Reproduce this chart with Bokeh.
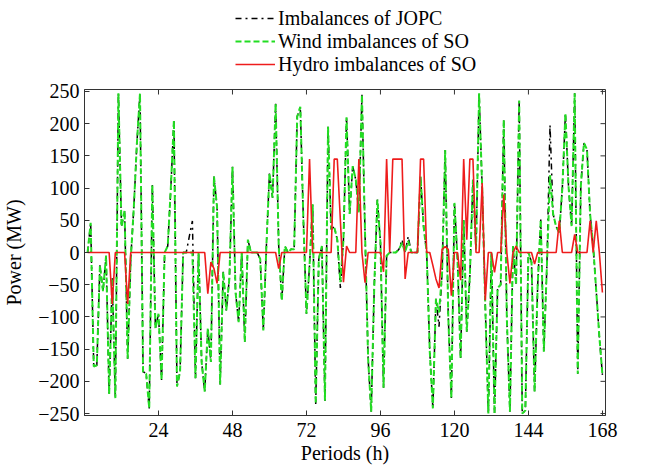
import math
from bokeh.plotting import figure
from bokeh.layouts import column
from bokeh.models import Legend, LegendItem, FixedTicker, Range1d
from bokeh.embed import file_html
from bokeh.resources import INLINE

periods = list(range(1, 169))

x_ticks = [24, 48, 72, 96, 120, 144, 168]
y_ticks = [-250, -200, -150, -100, -50, 0, 50, 100, 150, 200, 250]

wind_so = [
    0, 46, -177, -175, -20, -60, -5, -220, -40, -226, 247, 40, 65, -165, -10, 70, 170, 247, -185, -188, -242, 105, -118, -95,
    -198, 0, 10, 100, 205, -208, -185, 0, 0, 0, 0, -195, 0, -170, -216, -118, -170, 118, 70, -205, -30, -90, -40, 133,
    -62, -108, 0, -139, 20, 0, 0, 0, -10, -121, 10, 123, 85, 231, 10, -75, 10, 0, 5, 5, 211, 226, 51, -95,
    -20, 75, -235, -10, 10, -230, 195, 36, 40, 20, -46, 20, 210, 60, 134, 113, 62, 245, 30, -165, -247, -51, 82, 15,
    -210, -5, 0, 0, 0, 5, 15, 0, 18, 0, 0, 0, 118, 40, 0, -154, -242, -72, -93, -31, 159, -100, -226, 77,
    -10, -165, 50, -123, -36, 113, 5, 247, 100, -82, -250, 0, -250, -55, -50, 206, -103, -247, 10, -50, 236, -250, -245, 0,
    -15, -216, -51, 51, -154, -20, 120, 60, 40, 31, 100, 216, 103, 41, 247, -188, 103, 170, 160, 60, 10, -60, -130, -190,
]

jopc = [
    0, 46, -177, -175, -20, -60, -5, -220, -40, -226, 247, 40, 65, -165, -10, 70, 170, 247, -185, -188, -242, 105, -118, -95,
    -198, 0, 10, 100, 205, -208, -185, 0, 0, 25, 49, -195, 0, -170, -216, -118, -170, 118, 70, -205, -30, -90, -40, 133,
    -62, -108, 0, -139, 20, 0, 0, 0, -10, -121, 10, 123, 85, 231, 10, -75, 10, 0, 5, 5, 211, 226, 51, -95,
    -20, 75, -235, -10, 10, -230, 195, 36, 40, 20, -55, 20, 210, 60, 134, 113, 62, 245, 30, -165, -247, -51, 82, 15,
    -210, -5, 0, 0, 0, 5, 20, 0, 25, 0, 0, 0, 118, 40, 0, -154, -242, -72, -115, -31, 159, -100, -226, 77,
    -10, -165, 50, -123, -36, 113, 5, 247, 100, -82, -250, 0, -250, -55, -50, 206, -103, -247, 10, -50, 236, -250, -245, 0,
    -15, -216, -51, 51, -154, -20, 198, 60, 40, 31, 100, 216, 103, 41, 247, -188, 103, 170, 160, 60, 10, -60, -130, -190,
]

hydro_so = [
    0, 0, 0, 0, 0, 0, 0, 0, -80, 0, 0, 0, 0, -80, 0, 0, 0, 0, 0, 0, 0, 0, 0, 0,
    0, 0, 0, 0, 0, 0, 0, 0, 0, 0, 0, 0, 0, 0, 0, -64, -15, -25, -48, 0, 0, 0, 0, 0,
    0, 0, 0, 0, 0, 0, 0, 0, 0, 0, 0, 0, 0, 0, -25, 0, 0, 0, 0, 0, 0, 0, 0, 0,
    145, 0, 0, 0, 0, 0, 0, 0, 145, 145, 50, -46, 10, 0, 0, 0, 145, 0, -47, 0, 0, 0, 0, 0,
    -30, 145, 0, 145, 145, 145, 145, -41, 0, 0, 0, 0, 145, 145, 0, 0, -20, -41, -55, 5, 9, 5, -67, 0,
    0, -43, 145, 20, 145, 145, 0, 0, 108, -74, 0, 0, -31, 0, 0, 90, 0, -48, 0, 10, 0, 0, 0, 0,
    0, -18, 0, 0, 0, 0, 0, 0, 0, 49, 0, 0, 0, 0, 28, 0, 0, 0, 0, 49, 0, 49, 0, -62,
]

labels = ["Imbalances of JOPC", "Wind imbalances of SO", "Hydro imbalances of SO"]
colors = ["black", "#22dd22", "#ee1c1c"]
dashes = ["dashdot", "6 3", "solid"]
widths = [1.5, 2, 1.6]
series_list = [jopc, wind_so, hydro_so]

FONT = "Liberation Serif"
AX = "#333333"
X_LO, X_HI = 0, 169
Y_LO, Y_HI = -253, 253

# ---- legend strip above the chart (its series lie outside its own range, so only the key shows) ----
leg = figure(width=633, height=77, x_range=Range1d(-10, -9), y_range=Range1d(-10, -9),
             output_backend="svg", toolbar_location=None,
             x_axis_type=None, y_axis_type=None,
             min_border_left=0, min_border_right=0, min_border_top=0, min_border_bottom=0)
leg.outline_line_color = None
leg.xgrid.visible = False
leg.ygrid.visible = False
leg_items = []
for lab, ser, col, dsh, w in zip(labels, series_list, colors, dashes, widths):
    rr = leg.line(periods, ser, line_color=col, line_dash=dsh, line_width=w)
    leg_items.append(LegendItem(label=lab, renderers=[rr]))
legend = Legend(items=leg_items, location=(151, 1.5), orientation="vertical",
                glyph_width=40, glyph_height=20, label_height=20, label_standoff=3,
                spacing=0, padding=0, margin=0,
                label_text_font=FONT, label_text_font_size="20px", label_text_color="black",
                border_line_alpha=0, background_fill_alpha=0)
leg.add_layout(legend)

# ---- main chart ----
p = figure(width=633, height=389, x_range=Range1d(X_LO, X_HI), y_range=Range1d(Y_LO, Y_HI),
           output_backend="svg", toolbar_location=None,
           min_border_left=75, min_border_right=28, min_border_top=12, min_border_bottom=49)
p.xgrid.visible = False
p.ygrid.visible = False
p.outline_line_color = AX

for ax, ticks in ((p.xaxis, x_ticks), (p.yaxis, y_ticks)):
    ax.ticker = FixedTicker(ticks=ticks)
    ax.major_tick_in = 5
    ax.major_tick_out = 0
    ax.minor_tick_line_color = None
    ax.axis_line_color = AX
    ax.major_tick_line_color = AX
    ax.major_label_text_font = FONT
    ax.major_label_text_font_size = "20px"
    ax.major_label_text_color = "black"
    ax.axis_label_text_font = FONT
    ax.axis_label_text_font_size = "20px"
    ax.axis_label_text_font_style = "normal"
    ax.axis_label_text_color = "black"

p.xaxis.axis_label = "Periods (h)"
p.yaxis.axis_label = "Power (MW)"
p.xaxis.major_label_standoff = 7
p.xaxis.axis_label_standoff = 2
p.yaxis.major_label_standoff = 5
p.yaxis.axis_label_standoff = 10

# inward ticks on the top and right edges of the box (clipped to the frame)
p.scatter(x=x_ticks, y=[Y_HI] * len(x_ticks), marker="dash", size=10, angle=math.pi / 2,
          line_color=AX, line_width=1)
p.scatter(x=[X_HI] * len(y_ticks), y=y_ticks, marker="dash", size=10,
          line_color=AX, line_width=1)

for ser, col, dsh, w in zip(series_list, colors, dashes, widths):
    p.line(periods, ser, line_color=col, line_width=w, line_dash=dsh)

open("out.html", "w").write(file_html(column(leg, p, spacing=0), INLINE))
